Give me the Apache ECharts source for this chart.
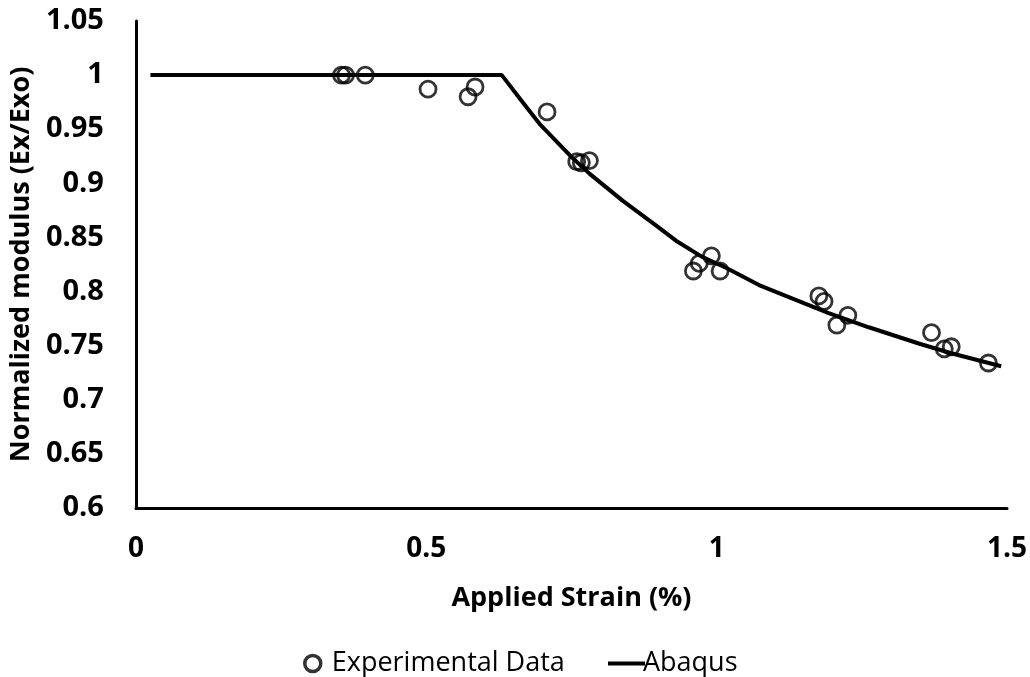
<!DOCTYPE html>
<html><head><meta charset="utf-8">
<script src="https://cdn.jsdelivr.net/npm/echarts@6/dist/echarts.min.js"></script>
<style>html,body{margin:0;padding:0;background:#fff}#c{width:1030px;height:677px}</style>
</head><body><div id="c"></div>
<script>
// Experimental data (strain %, normalized modulus)
const expStrain  = [0.354, 0.361, 0.395, 0.503, 0.572, 0.584, 0.708, 0.759, 0.767, 0.781, 0.960, 0.970, 0.991, 1.006, 1.176, 1.185, 1.207, 1.226, 1.370, 1.392, 1.404, 1.468];
const expModulus = [1.000, 1.000, 1.000, 0.987, 0.980, 0.989, 0.966, 0.920, 0.919, 0.921, 0.819, 0.826, 0.833, 0.819, 0.796, 0.791, 0.769, 0.778, 0.762, 0.747, 0.749, 0.734];
// Abaqus curve
const abaqusStrain  = [0.025, 0.630, 0.666, 0.695, 0.747, 0.781, 0.838, 0.896, 0.930, 0.975, 1.016, 1.073, 1.119, 1.193, 1.262, 1.348, 1.404, 1.490];
const abaqusModulus = [1.000, 1.000, 0.975, 0.955, 0.926, 0.909, 0.884, 0.861, 0.847, 0.832, 0.822, 0.806, 0.796, 0.780, 0.767, 0.752, 0.743, 0.731];
const seriesNames = ['Experimental Data', 'Abaqus'];

const FONT = '"Open Sans", "Noto Sans", sans-serif';
const chart = echarts.init(document.getElementById('c'), null, {renderer: 'canvas'});
const fmt = v => String(Math.round(v * 100) / 100);

chart.setOption({
  backgroundColor: '#ffffff',
  animation: false,
  grid: {left: 135, right: 22, top: 21, bottom: 169, containLabel: false},
  legend: [
    {
      data: [{name: seriesNames[0], icon: 'circle',
              itemStyle: {color: 'rgba(0,0,0,0)', borderColor: '#000', borderWidth: 3.5}}],
      left: 298, top: 645, itemWidth: 16, itemHeight: 16, itemGap: 10,
      textStyle: {fontFamily: FONT, fontSize: 27, color: '#000', padding: [0, 0, 0, 6]}
    },
    {
      data: [{name: seriesNames[1], icon: 'rect', itemStyle: {color: '#000'}}],
      left: 603, top: 645, itemWidth: 37, itemHeight: 4,
      textStyle: {fontFamily: FONT, fontSize: 27, color: '#000', padding: [0, 0, 0, -7]}
    }
  ],
  xAxis: {
    type: 'value', min: 0, max: 1.5, interval: 0.5,
    name: 'Applied Strain (%)', nameLocation: 'middle', nameGap: 77,
    nameTextStyle: {fontFamily: FONT, fontSize: 27, fontWeight: 'bold', color: '#000'},
    axisLine: {show: true, onZero: false, lineStyle: {color: '#000', width: 3}},
    axisTick: {show: false},
    splitLine: {show: false},
    axisLabel: {fontFamily: FONT, fontSize: 28, fontWeight: 'bold', color: '#000', margin: 27, formatter: fmt}
  },
  yAxis: {
    type: 'value', min: 0.6, max: 1.05, interval: 0.05,
    name: 'Normalized modulus (Ex/Exo)', nameLocation: 'middle', nameGap: 87,
    nameTextStyle: {fontFamily: FONT, fontSize: 27, fontWeight: 'bold', color: '#000'},
    axisLine: {show: true, onZero: false, lineStyle: {color: '#000', width: 3}},
    axisTick: {show: false},
    splitLine: {show: false},
    axisLabel: {fontFamily: FONT, fontSize: 29, fontWeight: 'bold', color: '#000', margin: 32, formatter: fmt}
  },
  series: [
    {
      name: seriesNames[0], type: 'scatter', z: 3,
      data: expStrain.map((x, i) => [x, expModulus[i]]),
      symbol: 'circle', symbolSize: 16,
      itemStyle: {color: 'rgba(0,0,0,0)', borderColor: '#000', borderWidth: 2.8}
    },
    {
      name: seriesNames[1], type: 'line', z: 2,
      data: abaqusStrain.map((x, i) => [x, abaqusModulus[i]]),
      showSymbol: false, smooth: false,
      lineStyle: {color: '#000', width: 4}
    }
  ]
});
</script>
</body></html>
